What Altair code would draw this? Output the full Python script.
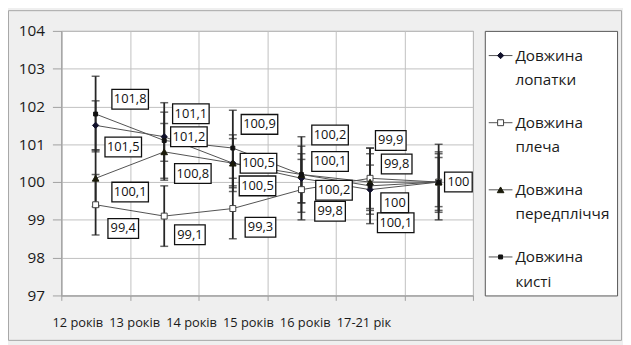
import altair as alt
import pandas as pd

# ---------------- data ----------------
categories = ["12 років", "13 років", "14 років", "15 років", "16 років", "17-21 рік"]
series_names = ["Довжина лопатки", "Довжина плеча", "Довжина передпліччя", "Довжина кисті"]

lopatky = [101.5, 101.2, 100.5, 100.1, 99.8, 100.0]
plecha = [99.4, 99.1, 99.3, 99.8, 100.1, 100.0]
peredplichchya = [100.1, 100.8, 100.5, 100.2, 100.0, 100.0]
kysti = [101.8, 101.1, 100.9, 100.2, 99.9, 100.0]

err_lopatky = [0.65, 0.65, 0.65, 0.65, 0.65, 0.65]
err_plecha = [0.8, 0.8, 0.8, 0.8, 0.8, 0.8]
err_peredplichchya = [0.75, 0.75, 0.75, 0.75, 0.75, 0.75]
err_kysti = [1.0, 1.0, 1.0, 1.0, 1.0, 1.0]

values = [lopatky, plecha, peredplichchya, kysti]
errors = [err_lopatky, err_plecha, err_peredplichchya, err_kysti]

# ---------------- layout (pixels) ----------------
W, H = 417, 268
X_DOM = [-0.5, 5.5]
Y_DOM = [97, 104]
PPX = W / (X_DOM[1] - X_DOM[0])
PPY = H / (Y_DOM[1] - Y_DOM[0])

# data-label offsets from each point (px): right / down
lab_dx = [
    [28, 25, 26, 29, 27, 20],
    [28, 26, 28, 29, 26, 20],
    [35, 29, 25, 33, 25, 20],
    [35, 27, 27, 29, 21, 20],
]
lab_dy = [
    [22, 0, 0, -17, -26, 0],
    [24, 19, 19, 22, 45, 0],
    [14, 22, 23, 16, 21, 0],
    [-15, -27, -24, -40, -46, 0],
]
box_w = {3: 28, 4: 31, 5: 37}
BOX_H = 20

FONT = "Open Sans"
GRID = "#c0c0c0"
LINE = "#505050"
BAR = "#262626"


def fmt(v):
    s = f"{v:.1f}"
    if s.endswith(".0"):
        s = s[:-2]
    return s.replace(".", ",")


rows = []
for s, name in enumerate(series_names):
    for i in range(len(categories)):
        v = values[s][i]
        e = errors[s][i]
        lab = fmt(v)
        lx = i + lab_dx[s][i] / PPX
        ly = v - lab_dy[s][i] / PPY
        hw = box_w[len(lab)] / 2 / PPX
        hh = BOX_H / 2 / PPY
        rows.append(dict(series=name, sidx=s, idx=i, value=v, lo=v - e, hi=v + e,
                         label=lab, lx=lx, ly=ly, bx1=lx - hw, bx2=lx + hw,
                         by1=ly - hh, by2=ly + hh))
df = pd.DataFrame(rows)
# coincident labels (last column) drawn only once
ldf = df.drop_duplicates(subset=["label", "lx", "ly"]).reset_index(drop=True)

xscale = alt.Scale(domain=X_DOM, nice=False, zero=False)
yscale = alt.Scale(domain=Y_DOM, nice=False, zero=False)
xaxis = alt.Axis(values=[-0.5, 0.5, 1.5, 2.5, 3.5, 4.5, 5.5], labels=False, title=None,
                 grid=True, gridColor=GRID, tickColor="#a0a0a0", tickSize=5,
                 domainColor="#a0a0a0")
yaxis = alt.Axis(values=[97, 98, 99, 100, 101, 102, 103, 104], title=None, grid=True,
                 gridColor=GRID, tickColor="#a0a0a0", tickSize=9, labelPadding=8,
                 labelFontSize=15.5, labelColor="#1a1a1a", labelFont=FONT,
                 domainColor="#a0a0a0")


def X(f):
    return alt.X(f, scale=xscale, axis=xaxis)


def Y(f):
    return alt.Y(f, scale=yscale, axis=yaxis)


base = alt.Chart(df)
lbase = alt.Chart(ldf)

lines = base.mark_line(color=LINE, strokeWidth=1).encode(
    x=X("idx:Q"), y=Y("value:Q"), detail="series:N")

bars = base.mark_rule(color=BAR, strokeWidth=1.8).encode(
    x=X("idx:Q"), y=Y("lo:Q"), y2="hi:Q")
cap_hi = base.mark_tick(orient="horizontal", size=8, thickness=1.5, color=BAR).encode(
    x=X("idx:Q"), y=Y("hi:Q"))
cap_lo = base.mark_tick(orient="horizontal", size=8, thickness=1.5, color=BAR).encode(
    x=X("idx:Q"), y=Y("lo:Q"))

marker_styles = [
    dict(shape="diamond", size=40, fill="#10102a", stroke="#10102a"),
    dict(shape="square", size=36, fill="white", stroke="#404040"),
    dict(shape="triangle-up", size=45, fill="#1a1a0a", stroke="#1a1a0a"),
    dict(shape="square", size=16, fill="#111111", stroke="#111111"),
]

marker_layers = []
for s, name in enumerate(series_names):
    st = marker_styles[s]
    marker_layers.append(
        base.transform_filter(alt.datum.sidx == s).mark_point(
            shape=st["shape"], size=st["size"], filled=True, fill=st["fill"],
            stroke=st["stroke"], strokeWidth=1, opacity=1
        ).encode(x=X("idx:Q"), y=Y("value:Q"))
    )

boxes = lbase.mark_rect(fill="white", stroke="#111111", strokeWidth=1.3).encode(
    x=X("bx1:Q"), x2="bx2:Q", y=Y("by1:Q"), y2="by2:Q")
texts = lbase.mark_text(font=FONT, fontSize=13, color="#111111", baseline="middle",
                        align="center").encode(x=X("lx:Q"), y=Y("ly:Q"), text="label:N")

# category labels (drawn compressed to the left as in the original)
XLAB_LEFT0 = -9
XLAB_STEP = 57.6
xdf = pd.DataFrame({"cat": categories,
                    "xl": [(XLAB_LEFT0 + k * XLAB_STEP) / PPX + X_DOM[0] for k in range(len(categories))]})
xlabels = alt.Chart(xdf).mark_text(font=FONT, fontSize=13, color="#1a1a1a", align="left",
                                   baseline="middle").encode(
    x=X("xl:Q"), y=alt.value(H + 28), text="cat:N")

# legend (manual, Excel-like)
dummy = pd.DataFrame({"d": [0]})
leg_layers = [
    alt.Chart(dummy).mark_rect(fill="white", stroke="#555555", strokeWidth=1).encode(
        x=alt.value(429.5), x2=alt.value(563.5), y=alt.value(0.5), y2=alt.value(268.5))
]
for s, name in enumerate(series_names):
    yy = 25 + 68 * s
    st = marker_styles[s]
    w1, w2 = name.split(" ", 1)
    leg_layers.append(alt.Chart(dummy).mark_rule(color=LINE, strokeWidth=1).encode(
        x=alt.value(433), x2=alt.value(457), y=alt.value(yy)))
    leg_layers.append(alt.Chart(dummy).mark_point(
        shape=st["shape"], size=st["size"], filled=True, fill=st["fill"],
        stroke=st["stroke"], strokeWidth=1, opacity=1).encode(
        x=alt.value(445), y=alt.value(yy)))
    leg_layers.append(alt.Chart(dummy).mark_text(
        font=FONT, fontSize=15.5, color="#1a1a1a", align="left", baseline="middle").encode(
        x=alt.value(460), y=alt.value(yy), text=alt.value(w1)))
    leg_layers.append(alt.Chart(dummy).mark_text(
        font=FONT, fontSize=15.5, color="#1a1a1a", align="left", baseline="middle").encode(
        x=alt.value(460), y=alt.value(yy + 25), text=alt.value(w2)))

outer = alt.Chart(dummy).mark_rect(fill=None, stroke="#a6a6a6", strokeWidth=1).encode(
    x=alt.value(-53.5), x2=alt.value(567.5), y=alt.value(-20.5), y2=alt.value(313.5))

chart = alt.layer(
    lines, bars, cap_hi, cap_lo, *marker_layers, boxes, texts, xlabels, *leg_layers, outer
).properties(
    width=W, height=H,
    padding={"left": 54, "top": 21, "right": 152, "bottom": 48},
    autosize=alt.AutoSizeParams(type="none"),
    background="#efefef",
).configure_view(
    fill="white", stroke="#8a8a8a", strokeWidth=1
).configure_axis(
    labelFont=FONT
)

chart.save("out.html", embed_options={"renderer": "svg", "actions": False})
